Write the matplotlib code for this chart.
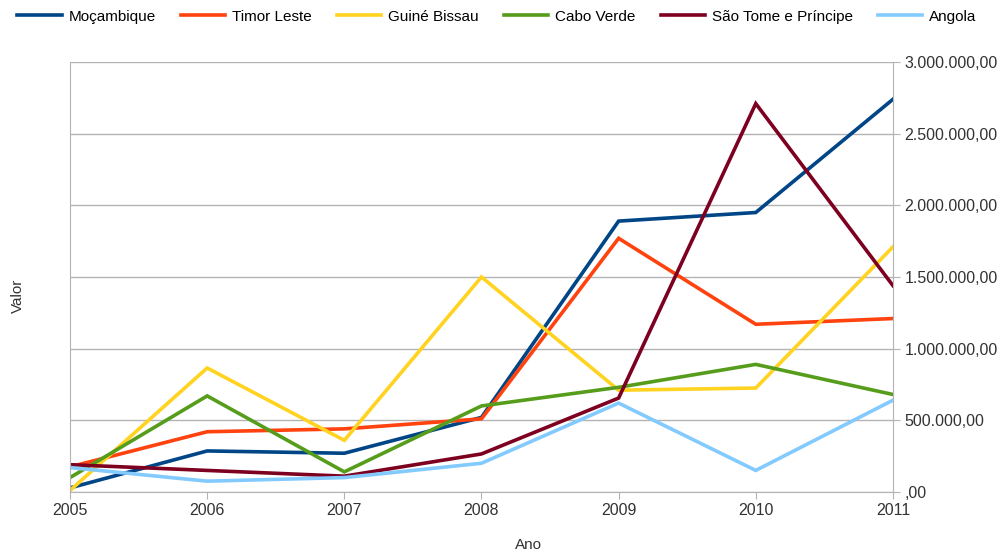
import numpy as np
import matplotlib; matplotlib.use("Agg")
import matplotlib.pyplot as plt
from matplotlib.ticker import FuncFormatter

plt.rcParams["font.family"] = ["Liberation Sans", "DejaVu Sans"]

anos = [2005, 2006, 2007, 2008, 2009, 2010, 2011]
mocambique = [28000, 286000, 270000, 520000, 1890000, 1950000, 2740000]
timor_leste = [175000, 420000, 440000, 510000, 1770000, 1170000, 1210000]
guine_bissau = [10000, 865000, 360000, 1500000, 710000, 725000, 1710000]
cabo_verde = [100000, 670000, 140000, 600000, 730000, 890000, 680000]
sao_tome = [190000, 150000, 110000, 265000, 655000, 2710000, 1440000]
angola = [170000, 75000, 100000, 200000, 620000, 150000, 640000]

series = [
    ("Moçambique", mocambique, "#004586"),
    ("Timor Leste", timor_leste, "#ff420e"),
    ("Guiné Bissau", guine_bissau, "#ffd320"),
    ("Cabo Verde", cabo_verde, "#579d1c"),
    ("São Tome e Príncipe", sao_tome, "#7e0021"),
    ("Angola", angola, "#83caff"),
]


def fmt(v, pos):
    # pt-BR style: 1.500.000,00 and ",00" for zero
    if v == 0:
        return ",00"
    s = f"{v:,.2f}".replace(",", "X").replace(".", ",").replace("X", ".")
    return s


fig = plt.figure(figsize=(10.06, 5.59), dpi=100)
ax = fig.add_axes([0.0696, 0.12, 0.818, 0.769])

for name, vals, col in series:
    ax.plot(anos, vals, color=col, lw=2.6, label=name, solid_joinstyle="miter")

ax.set_xlim(2005, 2011)
ax.set_ylim(0, 3000000)
ax.set_yticks(np.arange(0, 3000001, 500000))
ax.set_xticks(anos)
ax.yaxis.set_major_formatter(FuncFormatter(fmt))
ax.yaxis.tick_right()
ax.grid(axis="y", color="#b3b3b3", lw=1)
ax.set_axisbelow(True)
for sp in ["top"]:
    ax.spines[sp].set_visible(False)
for sp in ["left", "right", "bottom"]:
    ax.spines[sp].set_color("#b3b3b3")
ax.tick_params(colors="#b3b3b3", labelcolor="#333333", labelsize=11.5, length=5)
ax.tick_params(axis="x", pad=3)

fig.text(0.525, 0.012, "Ano", ha="center", va="bottom", fontsize=11, color="#333333")
fig.text(0.018, 0.47, "Valor", ha="center", va="center", rotation=90, fontsize=11, color="#333333")

fig.legend(loc="upper center", bbox_to_anchor=(0.494, 1.007), ncol=6, frameon=False,
           fontsize=11, handlelength=2.9, columnspacing=1.65, handletextpad=0.45)

plt.savefig("out.png", dpi=100)
